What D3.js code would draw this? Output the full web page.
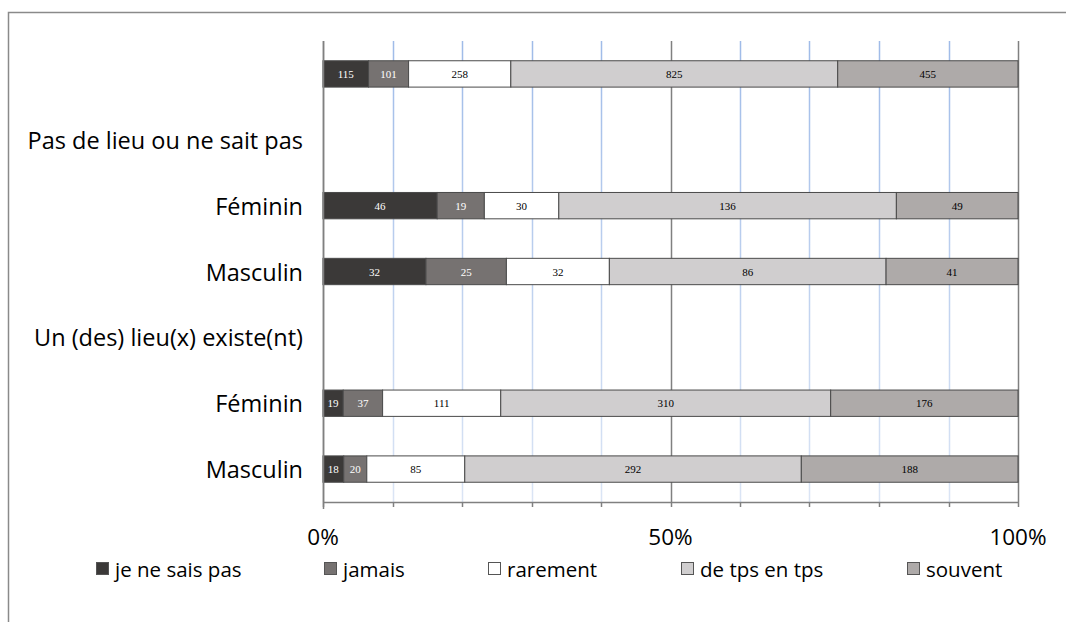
<!DOCTYPE html>
<html>
<head>
<meta charset="utf-8">
<script src="https://cdn.jsdelivr.net/npm/d3@7"></script>
<style>
  html, body { margin: 0; padding: 0; background: #fff; }
  svg { display: block; }
</style>
</head>
<body>
<svg id="chart" width="1066" height="622"></svg>
<script>
// ---- Data ----
const categories = ["", "Pas de lieu ou ne sait pas", "Féminin", "Masculin", "Un (des) lieu(x) existe(nt)", "Féminin", "Masculin"];
const seriesNames = ["je ne sais pas", "jamais", "rarement", "de tps en tps", "souvent"];
const jeNeSaisPas = [115, null, 46, 32, null, 19, 18];
const jamais      = [101, null, 19, 25, null, 37, 20];
const rarement    = [258, null, 30, 32, null, 111, 85];
const deTpsEnTps  = [825, null, 136, 86, null, 310, 292];
const souvent     = [455, null, 49, 41, null, 176, 188];
const tickLabels = ["0%", "50%", "100%"];
const seriesColors = ["#3b3938", "#767271", "#ffffff", "#d0cecf", "#aeaaa9"];
const labelColors = ["#ffffff", "#ffffff", "#000000", "#000000", "#000000"];

(function () {
const seriesValues = [jeNeSaisPas, jamais, rarement, deTpsEnTps, souvent];
const rows = categories.map((c, i) => {
  const r = { idx: i, cat: c };
  seriesNames.forEach((s, j) => r[s] = seriesValues[j][i] == null ? 0 : seriesValues[j][i]);
  r.has = seriesValues[0][i] != null;
  return r;
});

const FONT = "'Open Sans', 'Noto Sans', sans-serif";

// ---- Layout ----
const svg = d3.select("#chart");
const pL = 323, pR = 1018, pT = 41, pB = 502;

// outer frame
svg.append("rect").attr("x", 8.5).attr("y", 12.5).attr("width", 1080).attr("height", 640)
  .attr("fill", "none").attr("stroke", "#8a8a8a").attr("stroke-width", 1.5);

const x = d3.scaleLinear().domain([0, 1]).range([pL, pR]);
const y = d3.scaleBand().domain(rows.map(r => r.idx)).range([pT, pB])
  .paddingInner(0.6).paddingOuter(0.3);

// gradient for blue gridlines
const defs = svg.append("defs");
const grad = defs.append("linearGradient").attr("id", "gridGrad")
  .attr("gradientUnits", "userSpaceOnUse").attr("x1", 0).attr("y1", pT).attr("x2", 0).attr("y2", pB);
grad.append("stop").attr("offset", "0%").attr("stop-color", "#9fbbe8");
grad.append("stop").attr("offset", "100%").attr("stop-color", "#dbe5f5");

// gridlines
const gridTicks = d3.range(0, 11).map(d => d / 10);
svg.append("g").selectAll("line").data(gridTicks).join("line")
  .attr("x1", d => Math.round(x(d)) + 0.5).attr("x2", d => Math.round(x(d)) + 0.5)
  .attr("y1", pT).attr("y2", pB)
  .attr("stroke", d => (d === 0 || d === 0.5 || d === 1) ? "#808080" : "url(#gridGrad)")
  .attr("stroke-width", 1.5);

// stacked bars
const stack = d3.stack().keys(seriesNames).offset(d3.stackOffsetExpand);
const stacked = stack(rows.filter(r => r.has));

const gBars = svg.append("g");
stacked.forEach((layer, li) => {
  const g = gBars.append("g");
  g.selectAll("rect").data(layer).join("rect")
    .attr("x", d => x(d[0])).attr("width", d => x(d[1]) - x(d[0]))
    .attr("y", d => y(d.data.idx)).attr("height", y.bandwidth())
    .attr("fill", seriesColors[li]).attr("stroke", "#4a4a4a").attr("stroke-width", 1);
  g.selectAll("text").data(layer).join("text")
    .attr("x", d => (x(d[0]) + x(d[1])) / 2)
    .attr("y", d => y(d.data.idx) + y.bandwidth() / 2)
    .attr("text-anchor", "middle").attr("dominant-baseline", "central")
    .attr("font-family", "'Liberation Serif', serif").attr("font-size", 11)
    .attr("fill", labelColors[li])
    .text(d => d.data[layer.key]);
});

// axes lines
svg.append("line").attr("x1", pL).attr("x2", pR + 1).attr("y1", pB + 0.5).attr("y2", pB + 0.5)
  .attr("stroke", "#808080").attr("stroke-width", 1.5);
svg.append("line").attr("x1", pL + 0.5).attr("x2", pL + 0.5).attr("y1", pT).attr("y2", pB + 7)
  .attr("stroke", "#808080").attr("stroke-width", 1.5);
svg.append("g").selectAll("line").data(gridTicks).join("line")
  .attr("x1", d => Math.round(x(d)) + 0.5).attr("x2", d => Math.round(x(d)) + 0.5)
  .attr("y1", pB).attr("y2", pB + 5)
  .attr("stroke", "#808080").attr("stroke-width", 1.5);

// x tick labels
svg.append("g").selectAll("text").data(tickLabels).join("text")
  .attr("x", (d, i) => x(i * 0.5)).attr("y", 545)
  .attr("text-anchor", "middle")
  .attr("font-family", FONT).attr("font-size", 22.5)
  .attr("fill", "#000").text(d => d);

// y category labels
svg.append("g").selectAll("text").data(rows).join("text")
  .attr("x", 303).attr("y", d => y(d.idx) + y.bandwidth() / 2)
  .attr("text-anchor", "end").attr("dominant-baseline", "central")
  .attr("font-family", FONT).attr("font-size", 23.5)
  .attr("fill", "#000").text(d => d.cat);

// legend
const legendX = [96, 324, 488, 681, 907];
const lg = svg.append("g").selectAll("g").data(seriesNames).join("g")
  .attr("transform", (d, i) => `translate(${legendX[i]},569)`);
lg.append("rect").attr("x", 0.5).attr("y", -6.5).attr("width", 12).attr("height", 12)
  .attr("fill", (d, i) => seriesColors[i]).attr("stroke", "#555").attr("stroke-width", 1);
lg.append("text").attr("x", 19).attr("y", 0).attr("dominant-baseline", "central")
  .attr("font-family", FONT).attr("font-size", 20.5)
  .attr("fill", "#000").text(d => d);
})();
</script>
</body>
</html>
